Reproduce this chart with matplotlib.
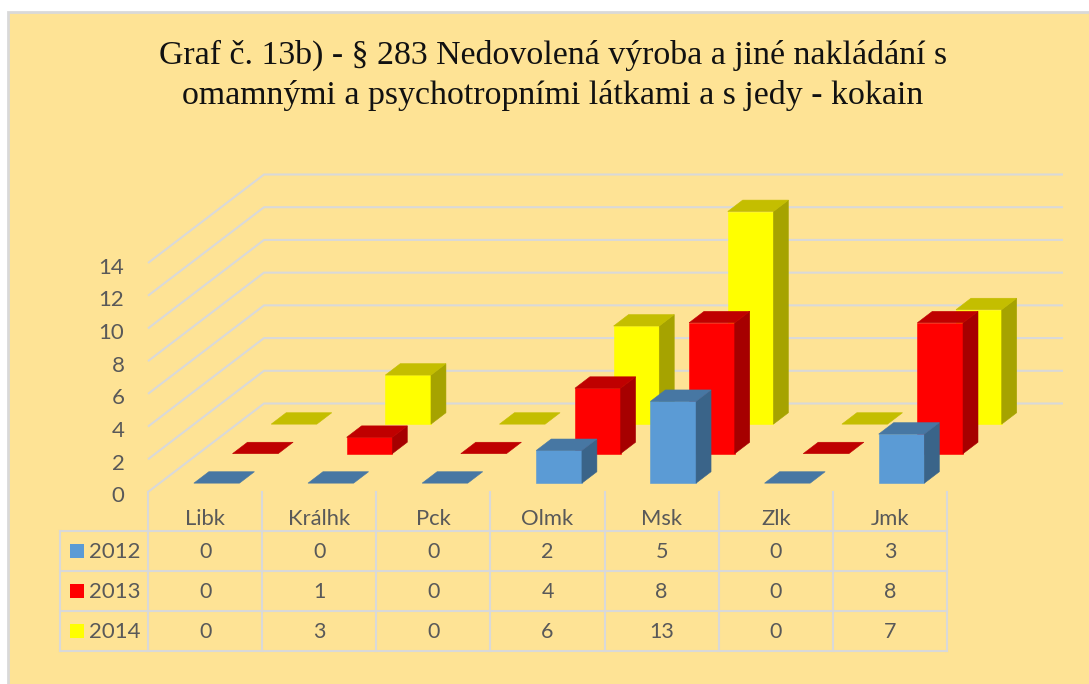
import matplotlib
matplotlib.use("Agg")
import matplotlib.pyplot as plt
from matplotlib.patches import Rectangle
from matplotlib.transforms import blended_transform_factory, ScaledTranslation

categories = ["Libk", "Králhk", "Pck", "Olmk", "Msk", "Zlk", "Jmk"]
years = ["2012", "2013", "2014"]
values_2012 = [0, 0, 0, 2, 5, 0, 3]
values_2013 = [0, 1, 0, 4, 8, 0, 8]
values_2014 = [0, 3, 0, 6, 13, 0, 7]
y_ticks = [0, 2, 4, 6, 8, 10, 12, 14]
title = "Graf č. 13b) - § 283 Nedovolená výroba a jiné nakládání s\nomamnými a psychotropními látkami a s jedy - kokain"

series = [values_2012, values_2013, values_2014]
front_colors = ["#5B9BD5", "#FF0000", "#FFFF00"]
top_colors = ["#4777A3", "#BF0000", "#C4BE00"]
side_colors = ["#3A6489", "#A60000", "#A6A300"]

W, H = 1089, 684
BG = "#FEE395"
GRID = "#D9D9D9"
TXT = "#595959"
LW = 1.5
FONT = "Lato"

# depth axis: one unit of depth shifts by DX categories and DY value units
LEFT, RIGHT, BASE, TOP = 148, 947, 492, 263
DX = 116 / ((RIGHT - LEFT) / len(categories))
DY = 88.5 / ((BASE - TOP) / 14)
BAR_W = 0.40
BAR_D = 0.129
BAR_D0 = 0.30


def proj(x, y, d):
    return x + d * DX, y + d * DY


fig = plt.figure(figsize=(W / 100, H / 100), dpi=100, facecolor="white")

over = fig.add_axes([0, 0, 1, 1], zorder=0)
over.set_xlim(0, W)
over.set_ylim(H, 0)
over.axis("off")
over.add_patch(Rectangle((8, 12), W + 20, H + 20, facecolor=BG, edgecolor=GRID, lw=2))
over.text(553, 75.5, title, ha="center", va="center", family="Liberation Serif",
          fontsize=24.4, color="#111111", linespacing=1.4)

ax = fig.add_axes([LEFT / W, (H - BASE) / H, (RIGHT - LEFT) / W, (BASE - TOP) / H], zorder=1)
ax.patch.set_visible(False)
ax.set_xlim(0, len(categories))
ax.set_ylim(0, 14)
for s in ax.spines.values():
    s.set_visible(False)
ax.set_yticks(y_ticks)
ax.set_yticklabels([str(t) for t in y_ticks], family=FONT, fontsize=16, color=TXT)
ax.set_xticks([i + 0.5 for i in range(len(categories))])
ax.set_xticklabels(categories, family=FONT, fontsize=15.8, color=TXT)
ax.tick_params(axis="y", length=0, pad=17)
ax.tick_params(axis="x", length=0, pad=12)
for lab in ax.get_yticklabels():
    lab.set_transform(lab.get_transform() + ScaledTranslation(0, -2.5 / 100, fig.dpi_scale_trans))

# walls
for t in y_ticks:
    xs, ys = zip(proj(0, t, 0), proj(0, t, 1), proj(len(categories), t, 1))
    ax.plot(xs, ys, color=GRID, lw=LW, clip_on=False, zorder=2, solid_capstyle="butt")

# bars, back row first
z = 3
for s in range(len(series) - 1, -1, -1):
    d0 = (s + BAR_D0) / 3
    d1 = d0 + BAR_D
    for i, v in enumerate(series[s]):
        x0, x1 = i + 0.5 - BAR_W / 2, i + 0.5 + BAR_W / 2
        faces = [
            ([proj(x0, 0, d0), proj(x1, 0, d0), proj(x1, v, d0), proj(x0, v, d0)], front_colors[s]),
            ([proj(x1, 0, d0), proj(x1, 0, d1), proj(x1, v, d1), proj(x1, v, d0)], side_colors[s]),
            ([proj(x0, v, d0), proj(x1, v, d0), proj(x1, v, d1), proj(x0, v, d1)], top_colors[s]),
        ]
        for pts, col in faces:
            if v == 0 and col != top_colors[s]:
                continue
            xs, ys = zip(*pts)
            ax.fill(xs, ys, facecolor=col, edgecolor=col, lw=0.4, clip_on=False, zorder=z)
        z += 0.01

# data table
tr = blended_transform_factory(ax.transData, over.transData)
row_lines = [531, 571, 611, 651]
table_left = 60
for y in row_lines:
    over.plot([table_left, RIGHT], [y, y], color=GRID, lw=LW, solid_capstyle="projecting")
over.plot([table_left, table_left], [row_lines[0], row_lines[-1]], color=GRID, lw=LW)
for i in range(len(categories) + 1):
    ax.plot([i, i], [BASE, row_lines[-1]], color=GRID, lw=LW, transform=tr, clip_on=False, zorder=2)
for r, vals in enumerate(series):
    yc = (row_lines[r] + row_lines[r + 1]) / 2
    over.add_patch(Rectangle((69.5, yc - 7.5), 14, 14, facecolor=front_colors[r], edgecolor="none"))
    over.text(89, yc + 0.5, years[r], family=FONT, fontsize=16, color=TXT, ha="left", va="center")
    for i, v in enumerate(vals):
        ax.text(i + 0.5, yc + 0.5, str(v), family=FONT, fontsize=15.5, color=TXT, ha="center",
                va="center", transform=tr, clip_on=False)

fig.savefig("out.png", dpi=100, facecolor="white")
